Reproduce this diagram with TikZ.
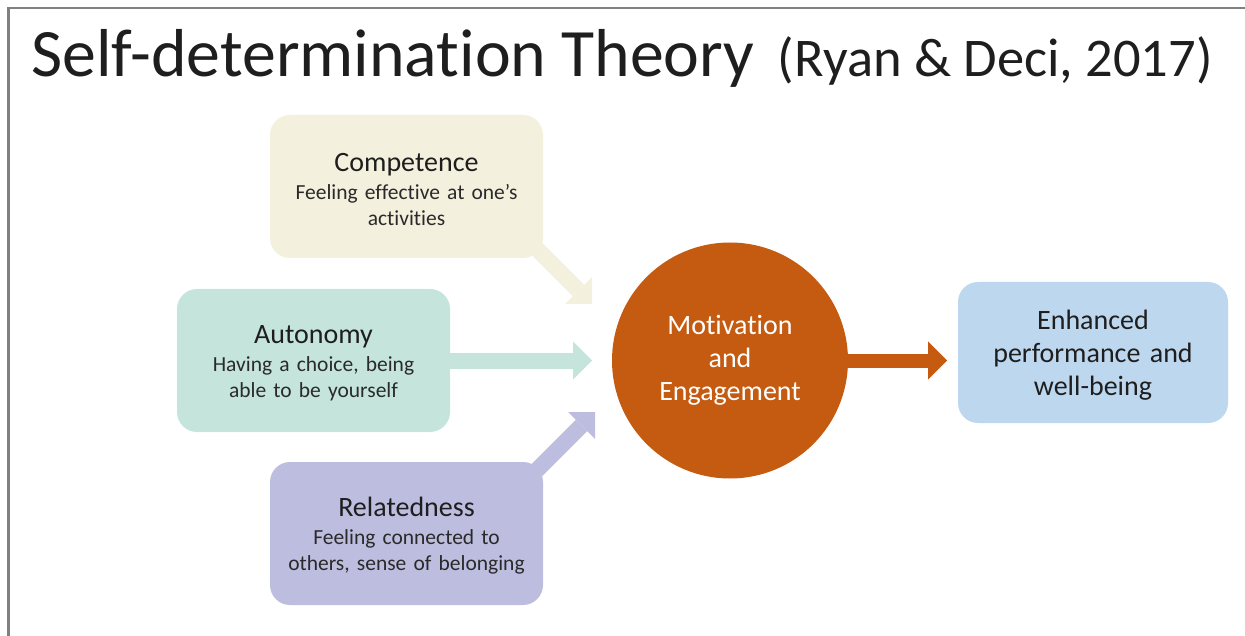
\documentclass[tikz,border=0pt]{standalone}
\usepackage{fontspec}
\setmainfont{Carlito}[Ligatures=NoCommon]
\usetikzlibrary{arrows.meta,backgrounds}
\definecolor{framec}{HTML}{808080}
\definecolor{txt}{HTML}{1E1E1E}
\definecolor{subtxt}{HTML}{2A2A2A}
\definecolor{compc}{HTML}{F3F0DE}
\definecolor{autc}{HTML}{C5E4DC}
\definecolor{relc}{HTML}{BDBDE0}
\definecolor{circc}{HTML}{C55A11}
\definecolor{enhc}{HTML}{BDD7EE}
\tikzset{
  box/.style={rounded corners=20pt, minimum width=273pt, minimum height=143pt,
    text width=265pt, inner sep=4pt, align=center, text=subtxt,
    font=\fontsize{21.5}{26}\selectfont, text height=24pt},
  arr/.style={line width=16pt, -{Triangle[length=19pt,width=38pt,line width=0pt]}},
}
\newcommand{\boxhead}[1]{{\color{txt}\fontsize{28}{28}\selectfont #1}\\[2pt]}
\begin{document}
\begin{tikzpicture}[x=1pt,y=-1pt]
\useasboundingbox (0,0) rectangle (1245,636);
\draw[framec, line width=2.5pt] (8.5,636) -- (8.5,8) -- (1245,8);
\node[anchor=base west, inner sep=0pt, text=txt] (title) at (31,77)
  {\fontsize{67.8}{68}\selectfont Self-determination Theory\hspace{8pt} \fontsize{54.5}{55}\selectfont (Ryan \& Deci, 2017)};

\node[box, fill=compc] (comp) at (406.5,186.5)
  {\boxhead{Competence}Feeling effective at one’s\\activities};
\node[box, fill=autc] (aut) at (313.5,360.5)
  {\boxhead{Autonomy}Having a choice, being\\able to be yourself};
\node[box, fill=relc] (rel) at (406.5,533.5)
  {\boxhead{Relatedness}Feeling connected to\\others, sense of belonging};
\node[circle, fill=circc, minimum size=236pt, inner sep=0pt, text=white, align=center,
  font=\fontsize{28}{33}\selectfont] (circ) at (730,360.5)
  {Motivation\\and\\Engagement};
\node[rounded corners=20pt, fill=enhc, minimum width=270pt, minimum height=141pt,
  text width=262pt, inner sep=4pt, align=center, text=txt, text height=25pt,
  font=\fontsize{28}{33}\selectfont] (enh) at (1093,352.5)
  {Enhanced\\performance and\\well-being};

\coordinate (ctip) at (592,304);
\coordinate (atip) at (592,360.5);
\coordinate (rtip) at (595,412);
\coordinate (mtip) at (947,360.5);
\begin{scope}[on background layer]
  \draw[arr, draw=compc] ([shift={(-14,-17)}]comp.south east) -- (ctip);
  \draw[arr, draw=autc] ([xshift=-5pt]aut.east) -- (atip);
  \draw[arr, draw=relc] ([shift={(-14,16)}]rel.north east) -- (rtip);
  \draw[arr, draw=circc, line width=14pt] ([xshift=-10pt]circ.east) -- (mtip);
\end{scope}
\end{tikzpicture}
\end{document}
